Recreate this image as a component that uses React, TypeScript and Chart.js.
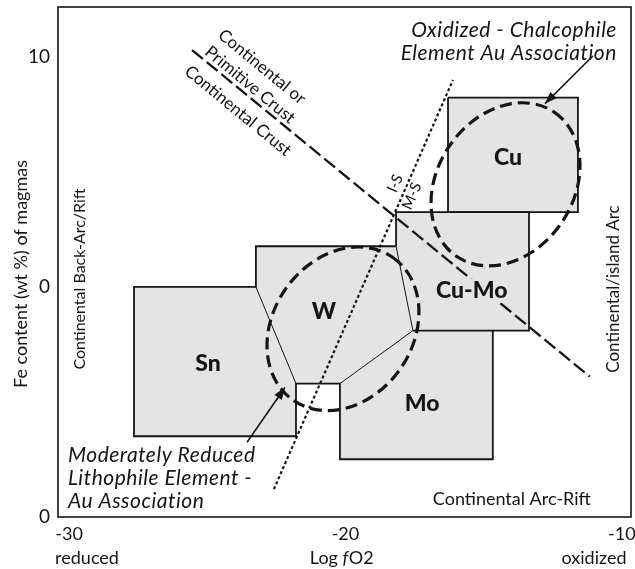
import React, { useEffect, useRef } from "react";
import { Chart, registerables } from "chart.js";

Chart.register(...registerables);

// ---------- data ----------
const xTicks = [-30, -20, -10];
const yTicks = [-10, 0, 10];
const yTickLabels = ["0", "0", "10"];

// filled zones (Log fO2, Fe content)
const snZone: number[][] = [[-27.65, 0], [-23.24, 0], [-21.79, -4.22], [-21.79, -6.49], [-27.65, -6.49]];
const wZone: number[][] = [[-23.24, 0], [-23.24, 1.77], [-18.17, 1.77], [-17.56, -1.9], [-20.2, -4.2], [-21.79, -4.2], [-21.79, -4.22]];
const cuMoZone: number[][] = [[-18.17, 3.25], [-13.36, 3.25], [-13.36, -1.9], [-17.56, -1.9], [-18.17, 1.77]];
const moZone: number[][] = [[-20.2, -4.2], [-17.56, -1.9], [-14.67, -1.9], [-14.67, -7.49], [-20.2, -7.49]];
const cuZone: number[][] = [[-16.29, 8.23], [-11.59, 8.23], [-11.59, 3.25], [-16.29, 3.25]];

// zone outlines
const outerOutline: number[][] = [[-18.17, 1.77], [-18.17, 3.25], [-13.36, 3.25], [-13.36, -1.9], [-14.67, -1.9], [-14.67, -7.49], [-20.2, -7.49], [-20.2, -4.2], [-21.79, -4.2], [-21.79, -6.49], [-27.65, -6.49], [-27.65, 0], [-23.24, 0], [-23.24, 1.77], [-18.17, 1.77]];
const cuMoBase: number[][] = [[-17.56, -1.9], [-14.67, -1.9]];
const cuOutline: number[][] = [[-16.29, 8.23], [-11.59, 8.23], [-11.59, 3.25], [-16.29, 3.25], [-16.29, 8.23]];
const snWBoundary: number[][] = [[-23.24, 0], [-21.79, -4.2]];
const wInnerBoundary: number[][] = [[-18.17, 1.77], [-17.56, -1.9], [-20.2, -4.2]];

// reference lines
const crustLine: number[][] = [[-25.55, 10.3], [-11.16, -3.9]];
const isMsLine: number[][] = [[-22.59, -8.79], [-16.11, 9.0]];

// arrows [tail, head]
const oxidizedArrow: number[][] = [[-11.05, 10.04], [-12.78, 7.97]];
const reducedArrow: number[][] = [[-23.56, -6.75], [-22.19, -4.37]];

// association ellipses: centre x, centre y, semi-axes (x-axis units), tilt (deg)
const ellipseCx = [-14.21, -20.09];
const ellipseCy = [4.46, -1.82];
const ellipseA = [3.15, 3.15];
const ellipseB = [2.46, 2.53];
const ellipseTilt = [56, 55];

// zone labels
const zoneLabels = ["Cu", "Cu-Mo", "W", "Mo", "Sn"];
const zoneLabelX = [-14.12, -15.43, -20.78, -17.23, -24.97];
const zoneLabelY = [5.63, -0.17, -1.08, -5.06, -3.33];

// association notes
const oxidizedNote = ["Oxidized - Chalcophile", "Element Au Association"];
const oxidizedNoteX = -10.18;
const oxidizedNoteY = [11.17, 10.17];
const reducedNote = ["Moderately Reduced", "Lithophile Element -", "Au Association"];
const reducedNoteX = -30.04;
const reducedNoteY = [-7.32, -8.31, -9.31];

// crust line labels
const crustLabels = ["Continental or", "Primitive Crust", "Continental Crust"];
const crustLabelX = [-23.02, -23.45, -23.89];
const crustLabelY = [9.57, 8.79, 7.66];

// I-S / M-S labels
const sLabels = ["I-S", "M-S"];
const sLabelX = [-18.2, -17.6];
const sLabelY = [4.5, 3.95];

// tectonic setting labels
const settingLabels = ["Continental Back-Arc/Rift", "Continental/island Arc", "Continental Arc-Rift"];
const settingX = [-29.6, -10.29, -13.98];
const settingY = [0.35, -0.09, -9.22];
const settingRot = [-90, -90, 0];
const settingSize = [16, 17, 18];

// ---------- styles ----------
const FONT = "Lato, 'Open Sans', 'DejaVu Sans', sans-serif";
const INK = "#151515";
const ZONE_FILL = "#e4e4e4";

const toXY = (pts: number[][]) => pts.map(([x, y]) => ({ x, y }));

const fillSet = (pts: number[][]) => ({
  data: toXY([...pts, pts[0]]),
  fill: "shape",
  backgroundColor: ZONE_FILL,
  borderColor: "rgba(0,0,0,0)",
  borderWidth: 0,
  pointRadius: 0,
  tension: 0,
  order: 10,
});

const lineSet = (pts: number[][], width: number, dash: number[] = []) => ({
  data: toXY(pts),
  fill: false,
  borderColor: INK,
  borderWidth: width,
  borderDash: dash,
  pointRadius: 0,
  tension: 0,
  order: 1,
});

function drawText(
  ctx: CanvasRenderingContext2D,
  text: string,
  x: number,
  y: number,
  font: string,
  align: CanvasTextAlign = "center",
  rot = 0,
  spacing = 0
) {
  ctx.save();
  ctx.translate(x, y);
  ctx.rotate(rot);
  ctx.font = font;
  if ("letterSpacing" in ctx) (ctx as any).letterSpacing = `${spacing}px`;
  ctx.fillStyle = INK;
  ctx.textAlign = align;
  ctx.textBaseline = "middle";
  ctx.fillText(text, 0, 0);
  ctx.restore();
}

const annotationPlugin = {
  id: "diagramAnnotations",
  afterDatasetsDraw(chart: any) {
    const { ctx, chartArea, scales } = chart;
    const xs = scales.x;
    const ys = scales.y;
    const px = (v: number) => xs.getPixelForValue(v);
    const py = (v: number) => ys.getPixelForValue(v);
    const ppu = Math.abs(px(1) - px(0));

    // ellipses
    for (let i = 0; i < ellipseCx.length; i++) {
      ctx.save();
      ctx.beginPath();
      ctx.ellipse(px(ellipseCx[i]), py(ellipseCy[i]), ellipseA[i] * ppu, ellipseB[i] * ppu, (-ellipseTilt[i] * Math.PI) / 180, 0, Math.PI * 2);
      ctx.setLineDash([12, 6]);
      ctx.lineWidth = 3.2;
      ctx.strokeStyle = INK;
      ctx.stroke();
      ctx.restore();
    }

    // arrowheads
    for (const arr of [oxidizedArrow, reducedArrow]) {
      const tx = px(arr[0][0]), ty = py(arr[0][1]);
      const hx = px(arr[1][0]), hy = py(arr[1][1]);
      const ang = Math.atan2(hy - ty, hx - tx);
      const L = 12, W = 4.5;
      const bx = hx - L * Math.cos(ang), by = hy - L * Math.sin(ang);
      ctx.save();
      ctx.fillStyle = INK;
      ctx.beginPath();
      ctx.moveTo(hx, hy);
      ctx.lineTo(bx - W * Math.sin(ang), by + W * Math.cos(ang));
      ctx.lineTo(bx + W * Math.sin(ang), by - W * Math.cos(ang));
      ctx.closePath();
      ctx.fill();
      ctx.restore();
    }

    // zone labels
    const boldFont = `900 23px ${FONT}`;
    for (let i = 0; i < zoneLabels.length; i++) {
      const x = px(zoneLabelX[i]), y = py(zoneLabelY[i]);
      if (zoneLabels[i] === "Cu-Mo") {
        ctx.save();
        ctx.font = boldFont;
        const w = ctx.measureText(zoneLabels[i]).width;
        ctx.fillStyle = ZONE_FILL;
        ctx.fillRect(x - w / 2 - 3, y - 12, w + 6, 24);
        ctx.restore();
      }
      drawText(ctx, zoneLabels[i], x, y, boldFont);
    }

    // notes
    const italic = `italic 21px ${FONT}`;
    oxidizedNote.forEach((t, i) => drawText(ctx, t, px(oxidizedNoteX), py(oxidizedNoteY[i]), italic, "right", 0, 0.5));
    reducedNote.forEach((t, i) => drawText(ctx, t, px(reducedNoteX), py(reducedNoteY[i]), italic, "left", 0, 0.5));

    // crust labels
    const cAng = Math.atan2(py(crustLine[1][1]) - py(crustLine[0][1]), px(crustLine[1][0]) - px(crustLine[0][0]));
    crustLabels.forEach((t, i) => drawText(ctx, t, px(crustLabelX[i]), py(crustLabelY[i]), `17px ${FONT}`, "center", cAng));

    // I-S / M-S
    const sAng = Math.atan2(py(isMsLine[1][1]) - py(isMsLine[0][1]), px(isMsLine[1][0]) - px(isMsLine[0][0]));
    sLabels.forEach((t, i) => drawText(ctx, t, px(sLabelX[i]), py(sLabelY[i]), `15px ${FONT}`, "center", sAng));

    // settings
    settingLabels.forEach((t, i) =>
      drawText(ctx, t, px(settingX[i]), py(settingY[i]), `${settingSize[i]}px ${FONT}`, "center", (settingRot[i] * Math.PI) / 180)
    );

    // plot frame
    ctx.save();
    ctx.strokeStyle = INK;
    ctx.lineWidth = 1.6;
    ctx.strokeRect(chartArea.left, chartArea.top, chartArea.right - chartArea.left, chartArea.bottom - chartArea.top);
    ctx.restore();

    // axis titles
    const titleFont = `18px ${FONT}`;
    const midY = (chartArea.top + chartArea.bottom) / 2 + 12;
    drawText(ctx, "Fe content (wt %) of magmas", 21, midY, titleFont, "center", -Math.PI / 2);
    const rowY = chartArea.bottom + 41;
    drawText(ctx, "reduced", chartArea.left + 29, rowY, titleFont, "center");
    drawText(ctx, "oxidized", chartArea.right - 37, rowY, titleFont, "center");
    // "Log fO2" with italic f
    ctx.save();
    ctx.font = titleFont;
    const w1 = ctx.measureText("Log ").width;
    const w3 = ctx.measureText("O2").width;
    ctx.font = `italic 18px ${FONT}`;
    const w2 = ctx.measureText("f").width;
    ctx.restore();
    const cx = px(-20) - 4;
    const start = cx - (w1 + w2 + w3) / 2;
    drawText(ctx, "Log ", start, rowY, titleFont, "left");
    drawText(ctx, "f", start + w1, rowY, `italic 18px ${FONT}`, "left");
    drawText(ctx, "O2", start + w1 + w2 + 0.5, rowY, titleFont, "left");
  },
};

export default function App() {
  const ref = useRef<HTMLCanvasElement>(null);

  useEffect(() => {
    if (!ref.current) return;
    const chart = new Chart(ref.current, {
      type: "line",
      data: {
        datasets: [
          fillSet(snZone),
          fillSet(wZone),
          fillSet(cuMoZone),
          fillSet(moZone),
          fillSet(cuZone),
          lineSet(outerOutline, 1.8),
          lineSet(cuMoBase, 1.8),
          lineSet(cuOutline, 1.8),
          lineSet(snWBoundary, 1),
          lineSet(wInnerBoundary, 1),
          lineSet(crustLine, 2.3, [14, 5]),
          lineSet(isMsLine, 2.2, [3, 2.5]),
          lineSet(oxidizedArrow, 1.6),
          lineSet(reducedArrow, 1.6),
        ] as any,
      },
      options: {
        responsive: false,
        animation: false,
        devicePixelRatio: 1,
        events: [],
        layout: { padding: { top: 7, right: 4, left: 0, bottom: 0 } },
        plugins: { legend: { display: false }, tooltip: { enabled: false }, title: { display: false } },
        scales: {
          x: {
            type: "linear",
            min: -30.4,
            max: -9.67,
            grid: { display: false, drawTicks: false },
            border: { display: false },
            afterBuildTicks: (s: any) => {
              s.ticks = xTicks.map((v) => ({ value: v }));
            },
            afterFit: (s: any) => {
              s.height = 52;
              s.paddingLeft = 0;
              s.paddingRight = 0;
            },
            ticks: {
              autoSkip: false,
              maxRotation: 0,
              minRotation: 0,
              padding: 6,
              color: INK,
              font: { family: FONT, size: 18 },
            },
          },
          y: {
            type: "linear",
            min: -10,
            max: 12.17,
            grid: { display: false, drawTicks: false },
            border: { display: false },
            afterBuildTicks: (s: any) => {
              s.ticks = yTicks.map((v) => ({ value: v }));
            },
            afterFit: (s: any) => {
              s.width = 58;
              s.paddingTop = 0;
              s.paddingBottom = 0;
            },
            ticks: {
              autoSkip: false,
              padding: 8,
              color: INK,
              font: { family: FONT, size: 19 },
              callback: (v: any) => {
                const i = yTicks.indexOf(Number(v));
                return i >= 0 ? yTickLabels[i] : "";
              },
            },
          },
        },
      },
      plugins: [annotationPlugin],
    } as any);
    return () => chart.destroy();
  }, []);

  return (
    <div style={{ position: "fixed", left: 0, top: 0, width: 635, height: 569, background: "#fff" }}>
      <canvas ref={ref} width={635} height={569} style={{ display: "block", width: 635, height: 569 }} />
    </div>
  );
}
